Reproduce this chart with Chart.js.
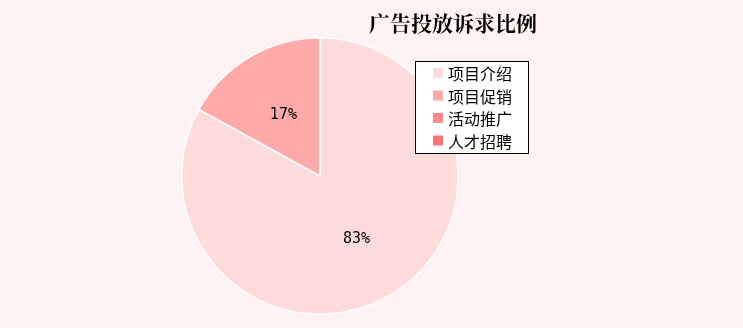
<!DOCTYPE html>
<html>
<head>
<meta charset="utf-8">
<script src="https://cdn.jsdelivr.net/npm/chart.js@4"></script>
<style>
html,body{margin:0;padding:0;background:#fef2f2;}
#wrap{width:743px;height:328px;position:relative;}
</style>
</head>
<body>
<div id="wrap"><canvas id="c" width="743" height="328"></canvas></div>
<script>
const titleText = "广告投放诉求比例";
const categories = ["项目介绍", "项目促销", "活动推广", "人才招聘"];
const values = [83, 17, 0, 0];
const colors = ["#ffdcdc", "#ffaaaa", "#ff8a8a", "#ff7373"];

const bgPlugin = {
  id: 'bg',
  beforeDraw(chart) {
    const ctx = chart.ctx;
    ctx.save();
    ctx.fillStyle = '#fef2f2';
    ctx.fillRect(0, 0, chart.width, chart.height);
    ctx.restore();
  }
};

const overlayPlugin = {
  id: 'overlay',
  afterDraw(chart) {
    const ctx = chart.ctx;
    ctx.save();
    // title
    ctx.fillStyle = '#000';
    ctx.font = 'bold 21px "Noto Serif CJK SC", "Noto Sans CJK SC", serif';
    ctx.textAlign = 'center';
    ctx.textBaseline = 'middle';
    ctx.fillText(titleText, 453, 23);

    // data labels
    const meta = chart.getDatasetMeta(0);
    const total = values.reduce((a, b) => a + b, 0);
    ctx.font = '15px "DejaVu Sans Mono", monospace';
    meta.data.forEach((arc, i) => {
      if (!values[i]) return;
      const mid = (arc.startAngle + arc.endAngle) / 2;
      const r = arc.outerRadius * 0.52;
      const x = arc.x + Math.cos(mid) * r;
      const y = arc.y + Math.sin(mid) * r + 1;
      ctx.fillText(Math.round(values[i] / total * 100) + '%', x, y);
    });

    // legend
    const lx = 415, ly = 61, lw = 113, lh = 92;
    ctx.fillStyle = '#ffffff';
    ctx.fillRect(lx, ly, lw, lh);
    ctx.strokeStyle = '#000';
    ctx.lineWidth = 1;
    ctx.strokeRect(lx + 0.5, ly + 0.5, lw, lh);
    ctx.font = '16px "Noto Sans CJK SC", sans-serif';
    ctx.textAlign = 'left';
    categories.forEach((c, i) => {
      const y = ly + 12 + i * 22.5;
      ctx.fillStyle = colors[i];
      ctx.fillRect(lx + 18, y - 5, 10, 10);
      ctx.fillStyle = '#000';
      ctx.fillText(c, lx + 33, y + 1);
    });
    ctx.restore();
  }
};

new Chart(document.getElementById('c'), {
  type: 'pie',
  data: {
    labels: categories,
    datasets: [{
      data: values,
      backgroundColor: colors,
      borderColor: '#ffffff',
      borderWidth: 1.5
    }]
  },
  options: {
    responsive: false,
    animation: false,
    layout: { padding: { left: 181, right: 284, top: 37, bottom: 13 } },
    plugins: {
      legend: { display: false },
      title: { display: false },
      tooltip: { enabled: false }
    }
  },
  plugins: [bgPlugin, overlayPlugin]
});
</script>
</body>
</html>
